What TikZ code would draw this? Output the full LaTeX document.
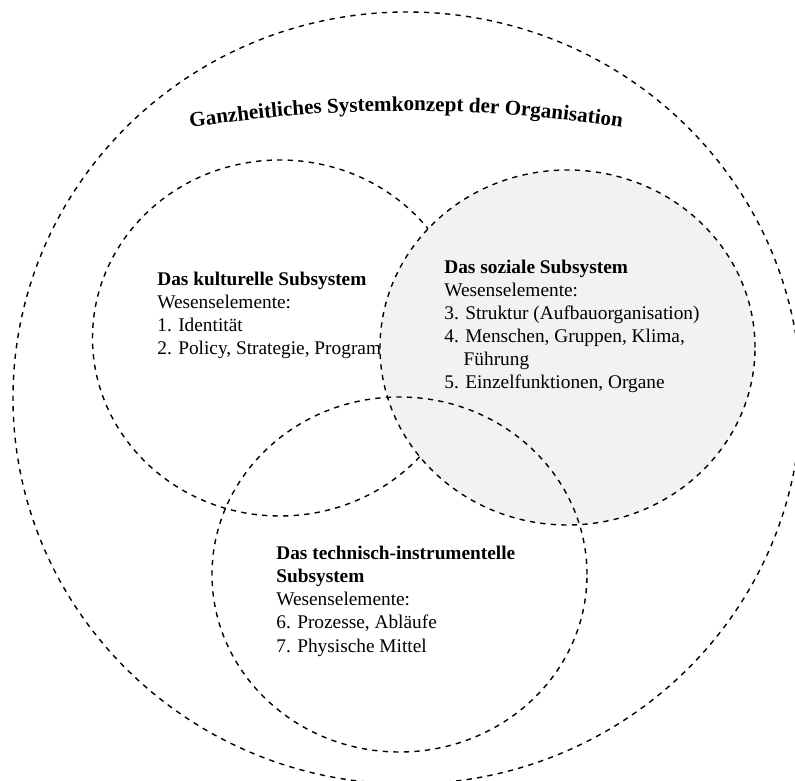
\documentclass[tikz,border=0pt]{standalone}
\usepackage{fontspec}
\setmainfont{Liberation Serif}
\usepackage{tikz}
\usetikzlibrary{decorations.text}

\begin{document}
\begin{tikzpicture}[scale=0.2]
	\tikzstyle{every node}+=[inner sep=0pt]
	\tikzstyle{ring}=[black, dashed, line width=0.8pt]
	\tikzstyle{subtext}=[anchor=base west, align=left, font=\fontsize{11}{13.2}\selectfont]
	\useasboundingbox (0,0) rectangle (79.5,-78.1);
	\clip (0,0) rectangle (79.5,-78.1);
	\draw [ring] (40.7,-39.8) ellipse (39.4 and 38.6);
	\path [decorate, decoration={text along path, text align=center,
		text={|\fontsize{12}{14}\selectfont\bfseries|Ganzheitliches Systemkonzept der Organisation}}]
		(15.57,-13.35) arc (100.3:79.7:140);
	\draw [ring] (28,-33.8) ellipse (18.75 and 17.8);
	\node [subtext] (kultur) at (15.7,-35.5) {\textbf{Das kulturelle Subsystem}\\Wesenselemente:\\1. Identität\\2. Policy, Strategie, Programme};
	\draw [ring, fill=black!5] (56.75,-34.75) ellipse (18.75 and 17.75);
	\node [subtext] (sozial) at (44.4,-38.9) {\textbf{Das soziale Subsystem}\\Wesenselemente:\\3. Struktur (Aufbauorganisation)\\4. Menschen, Gruppen, Klima,\\\hphantom{4.}~Führung\\5. Einzelfunktionen, Organe};
	\draw [ring] (39.95,-57.45) ellipse (18.75 and 17.75);
	\node [subtext] (technik) at (27.6,-65.2) {\textbf{Das technisch-instrumentelle}\\\textbf{Subsystem}\\Wesenselemente:\\6. Prozesse, Abläufe\\7. Physische Mittel};
\end{tikzpicture}
\end{document}
